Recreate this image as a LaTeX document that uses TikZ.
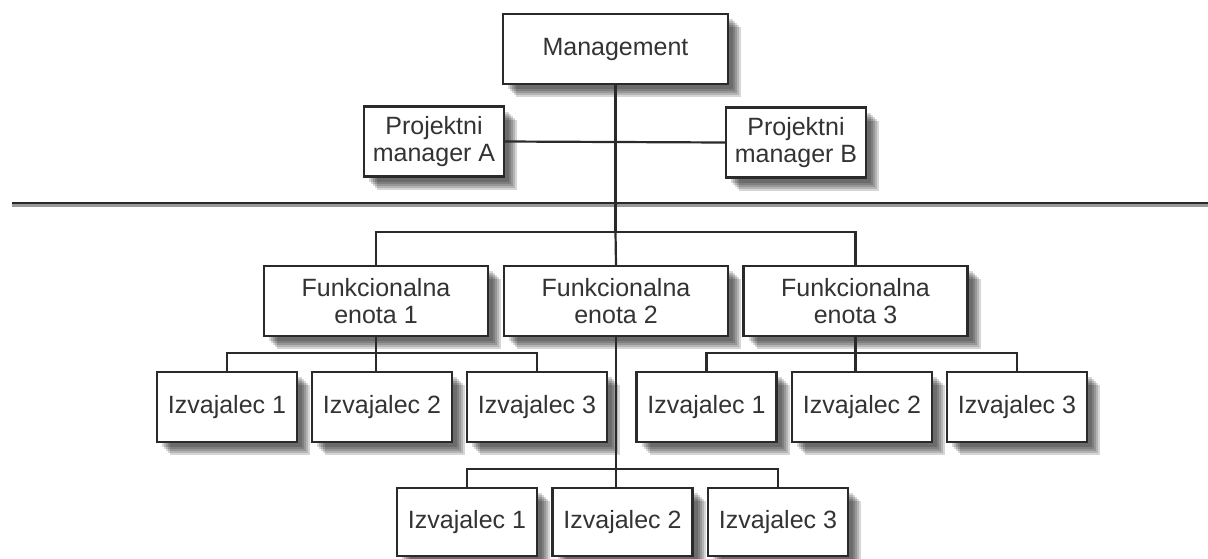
\documentclass[tikz,border=0pt]{standalone}
\usepackage{fontspec}
\setmainfont{Liberation Sans}
\usepackage{xcolor}
\usetikzlibrary{shadows}
\definecolor{ink}{HTML}{2A2A2A}
\definecolor{txt}{HTML}{333333}

\begin{document}
\begin{tikzpicture}[x=1pt,y=-1pt,
    soft/.style={drop shadow={shadow xshift=#1,shadow yshift=-#1,fill=black,opacity=.16}},
    box/.style={draw=ink,line width=2.2pt,fill=white,text=txt,
      align=center,inner sep=0pt,minimum width=140pt,minimum height=70pt,
      font=\fontsize{25}{27}\selectfont,
      soft=5pt,soft=7pt,soft=9pt,soft=11pt,soft=13pt},
    wide/.style={box,minimum width=224pt},
    link/.style={draw=ink,line width=2.2pt}]
  \useasboundingbox (0,0) rectangle (1208,558);

  % top: management and project managers
  \node (mg) [box,minimum width=225pt] at (615.5,49) {Management};
  \node (pma) [box] at (434,141.5) {Projektni\\manager A};
  \node (pmb) [box] at (796,142.5) {Projektni\\manager B};

  % separator
  \draw[black!40,line width=3pt] (12,205) -- (1208,205);
  \draw[ink,line width=2pt] (12,203) -- (1208,203);

  % functional units
  \node (fe1) [wide] at (376,301) {Funkcionalna\\enota 1};
  \node (fe2) [wide] at (616,301) {Funkcionalna\\enota 2};
  \node (fe3) [wide] at (855.5,301) {Funkcionalna\\enota 3};

  % workers
  \node (i11) [box] at (227,407) {Izvajalec 1};
  \node (i12) [box] at (382,407) {Izvajalec 2};
  \node (i13) [box] at (537,407) {Izvajalec 3};
  \node (i31) [box] at (706.5,407) {Izvajalec 1};
  \node (i32) [box] at (862,407) {Izvajalec 2};
  \node (i33) [box] at (1017,407) {Izvajalec 3};
  \node (i21) [box,minimum height=68pt] at (467,522) {Izvajalec 1};
  \node (i22) [box,minimum height=68pt] at (622.5,522) {Izvajalec 2};
  \node (i23) [box,minimum height=68pt] at (778,522) {Izvajalec 3};

  % branch points
  \coordinate (bm) at (mg.south |- 0,232);
  \coordinate (b1) at (fe1.south |- 0,353);
  \coordinate (b3) at (fe3.south |- 0,353);
  \coordinate (b2) at (fe2.south |- 0,469);

  \draw[link] (pma.east) -- (pmb.west);
  \draw[link] (mg.south) -- (bm);
  \draw[link] (fe1.north) |- (bm) -| (fe3.north);
  \draw[link] (bm) -- (fe2.north);

  \draw[link] (fe1.south) -- (fe1.south |- i12.north);
  \draw[link] (i11.north) |- (b1) -| (i13.north);
  \draw[link] (fe3.south) -- (fe3.south |- i32.north);
  \draw[link] (i31.north) |- (b3) -| (i33.north);
  \draw[link] (fe2.south) -- (fe2.south |- i22.north);
  \draw[link] (i21.north) |- (b2) -| (i23.north);
\end{tikzpicture}
\end{document}
